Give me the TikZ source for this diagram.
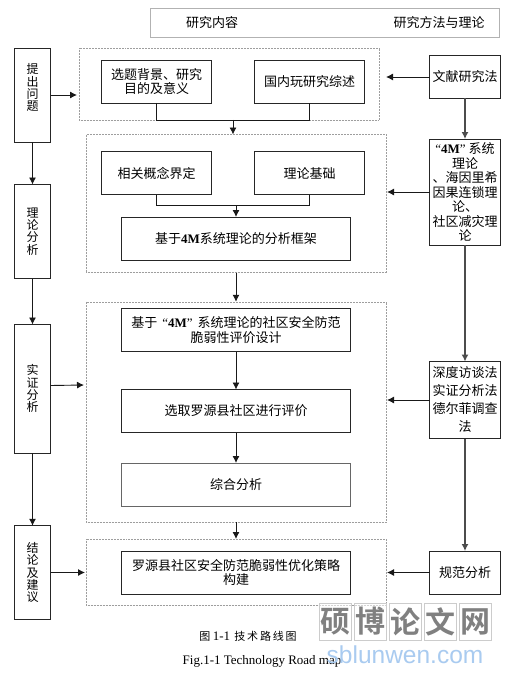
\documentclass[tikz,border=0pt]{standalone}
\usepackage{fontspec}
\setmainfont{Liberation Serif}
\newfontfamily\cjk{Noto Sans CJK SC}
\newfontfamily\wmfont{Noto Sans CJK SC}[BoldFont={Noto Sans CJK SC Bold}]
\newfontfamily\latin{Liberation Serif}
\newfontfamily\wmlat{Liberation Sans}
\usetikzlibrary{arrows.meta,calc}
\definecolor{wmblue}{HTML}{A9CBF0}
\tikzset{
  every node/.style={inner sep=0pt,outer sep=0pt},
  ln/.style={draw=black!85,line width=0.9pt},
  boxa/.style={ln,fill=white,align=center,font=\cjk\fontsize{13}{14.5}\selectfont},
  sidebox/.style={ln,fill=white,minimum width=36pt,align=center,font=\cjk\fontsize{12}{12.3}\selectfont},
  rbox/.style={boxa,minimum width=71pt,text width=66pt},
  smallbox/.style={boxa,minimum width=110pt,minimum height=43pt},
  widebox/.style={boxa,minimum width=229pt,minimum height=43pt,text width=218pt},
  group/.style={draw=black!38,line width=0.5pt,densely dotted},
  arr/.style={draw=black!90,line width=0.9pt,-{Latex[length=7pt,width=7pt]}},
  plain/.style={draw=black!90,line width=0.9pt},
  thick arr/.style={draw=black!70,line width=1.3pt,-{Latex[length=7pt,width=7pt]}},
  wmcell/.style={draw=black!20,line width=0.5pt,fill=white,fill opacity=0.55,text opacity=1,minimum width=32pt,minimum height=37pt,text=black!50,font=\wmfont\bfseries\fontsize{30}{30}\selectfont}
}
\begin{document}
\begin{tikzpicture}[x=1pt,y=-1pt]
\useasboundingbox (0,0) rectangle (508,674);
\fill[white] (0,0) rectangle (508,674);
% header
\node[draw=black!30,line width=0.7pt,minimum width=349pt,minimum height=29pt] (head) at (324.5,22.5) {};
\node[font=\cjk\fontsize{13}{14}\selectfont] (hl) at (212,23) {研究内容};
\node[font=\cjk\fontsize{13}{14}\selectfont] (hr) at (439,23) {研究方法与理论};
% groups
\node[group,minimum width=300pt,minimum height=72pt] (A) at (229,84) {};
\node[group,minimum width=300pt,minimum height=138pt] (B) at (236,203.5) {};
\node[group,minimum width=300pt,minimum height=220.5pt] (C) at (236,412) {};
\node[group,minimum width=300pt,minimum height=66pt] (D) at (236,572) {};
% left
\node[sidebox,minimum height=94pt] (l1) at (32.5,95) {提\\出\\问\\题\\[3pt]~};
\node[sidebox,minimum height=94pt] (l2) at (32.5,231.5) {理\\论\\分\\析};
\node[sidebox,minimum height=128.5pt] (l3) at (32.5,388.75) {实\\证\\分\\析};
\node[sidebox,minimum height=93.5pt] (l4) at (32.5,572.5) {结\\论\\及\\建\\议};
% inner
\node[smallbox,text width=100pt] (a1) at (156.5,81.5) {选题背景、研究\\目的及意义};
\node[smallbox] (a2) at (309.5,81.5) {国内玩研究综述};
\node[smallbox] (b1) at (156.5,173) {相关概念界定};
\node[smallbox] (b2) at (309.5,173) {理论基础};
\node[widebox] (b3) at (236,238.5) {基于{\latin\bfseries 4M}系统理论的分析框架};
\node[widebox] (c1) at (236,330) {基于\hspace{5pt}{\latin “\bfseries 4M\mdseries ”}\hspace{5pt}系统理论的社区安全防范\\脆弱性评价设计};
\node[widebox] (c2) at (236,411) {选取罗源县社区进行评价};
\node[widebox,draw=black!60] (c3) at (236,484.5) {综合分析};
\node[widebox] (d1) at (236,572.5) {罗源县社区安全防范脆弱性优化策略\\构建};
% right
\node[rbox,minimum height=43pt] (r1) at (465,77) {文献研究法};
\node[rbox,minimum height=106pt] (r2) at (465,192) {{\latin “\bfseries 4M\mdseries ”}\hspace{3pt}系统\\理论\\、海因里希\\因果连锁理\\论、\\社区减灾理\\论};
\node[rbox,minimum height=77pt,font=\cjk\fontsize{13}{18}\selectfont] (r3) at (465,400) {深度访谈法\\实证分析法\\德尔菲调查\\法};
\node[rbox,minimum height=43pt] (r4) at (465,572.5) {规范分析};
% left connectors
\draw[arr] (l1) -- (l2);
\draw[arr] (l2) -- (l3);
\draw[arr] (l3) -- (l4);
\draw[arr] (l1.east) -- ($(l1.east -| A.west)+(-2,0)$);
\draw[arr] (l3.east |- 0,385.5) -- ($(C.west |- 0,385)+(-2,0)$);
\draw[arr] (l4.east) -- ($(l4.east -| D.west)+(-1,0)$);
% inner connectors
\draw[plain] (a1.south) |- (a2.south |- A.south) -- (a2.south);
\coordinate (am) at (233,120);
\draw[arr] (am) -- (am |- B.north);
\draw[plain] (b1.south) |- (b2.south |- 0,205) -- (b2.south);
\draw[arr] (b3.north |- 0,205) -- (b3.north);
\draw[arr] (B.south -| c1.north) -- (C.north -| c1.north);
\draw[arr] (c1) -- (c2);
\draw[arr] (c2) -- (c3);
\draw[arr] (C.south -| d1.north) -- (D.north -| d1.north);
% right connectors
\draw[arr] (r1.west) -- ($(r1.west -| A.east)+(7,0)$);
\draw[arr] (r2.west) -- ($(r2.west -| B.east)+(1,0)$);
\draw[arr] (r3.west) -- ($(r3.west -| C.east)+(1,0)$);
\draw[arr] (r4.west) -- ($(r4.west -| D.east)+(1,0)$);
\draw[thick arr] (r1) -- (r2);
\draw[thick arr] (r2) -- (r3);
\draw[thick arr] (r3) -- (r4);
% captions
\node[font=\cjk\fontsize{11}{12}\selectfont] (cap1) at (248,636) {图 {\latin\fontsize{13}{13}\selectfont 1-1}\, 技\,术\,路\,线\,图};
\node[font=\latin\fontsize{13}{14}\selectfont] (cap2) at (262,661) {Fig.1-1 Technology Road map};
% watermark
\foreach \n/\cx/\t in {w1/335/硕,w2/370/博,w3/405/论,w4/440/文,w5/475/网}{
  \node[wmcell] (\n) at (\cx,621.5) {\t};
}
\node[font=\wmlat\fontsize{24.5}{25}\selectfont,text=wmblue] (wm) at (405,655) {sblunwen.com};
\end{tikzpicture}
\end{document}
